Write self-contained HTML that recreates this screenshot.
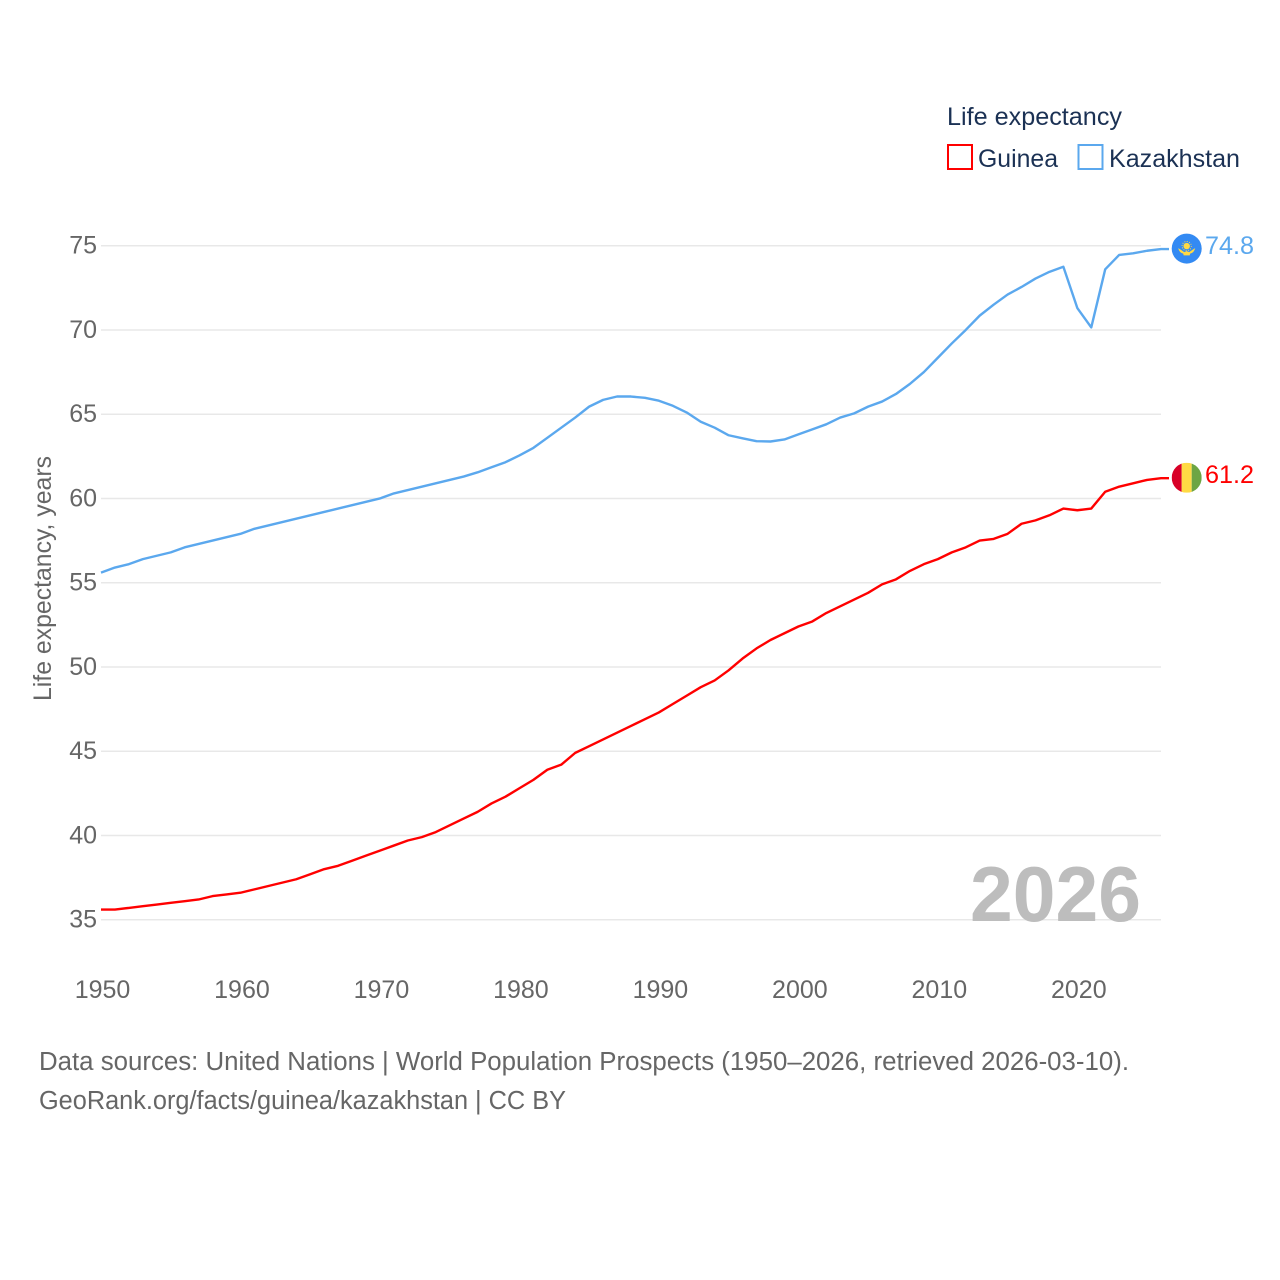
<!DOCTYPE html>
<html>
<head>
<meta charset="utf-8">
<title>Life expectancy: Guinea and Kazakhstan</title>
<style>
html,body{margin:0;padding:0;background:#fff;width:1280px;height:1280px;overflow:hidden}
svg{display:block}
text{font-family:"Liberation Sans",sans-serif}
</style>
</head>
<body>
<svg id="chart" xmlns="http://www.w3.org/2000/svg" width="1280" height="1280" viewBox="0 0 1280 1280">
  <rect width="1280" height="1280" fill="#fff"/>
  <g id="grid"></g>
  <g id="yticks"></g>
  <g id="xticks"></g>
  <text transform="translate(51,701) rotate(-90)" font-size="25" fill="#666" textLength="245" lengthAdjust="spacingAndGlyphs">Life expectancy, years</text>
  <text x="970" y="921" font-size="78" font-weight="700" fill="#bdbdbd" textLength="171" lengthAdjust="spacingAndGlyphs">2026</text>
  <g id="series"></g>

  <g>
    <text x="947" y="125" font-size="25" fill="#1b3154" textLength="175" lengthAdjust="spacingAndGlyphs">Life expectancy</text>
    <rect x="948" y="145" width="24" height="24" fill="#fff" stroke="#ff0000" stroke-width="2"/>
    <text x="978" y="167" font-size="25" fill="#1b3154" textLength="80" lengthAdjust="spacingAndGlyphs">Guinea</text>
    <rect x="1078.500" y="145" width="24" height="24" fill="#fff" stroke="#5ba8ee" stroke-width="2"/>
    <text x="1109" y="167" font-size="25" fill="#1b3154" textLength="131" lengthAdjust="spacingAndGlyphs">Kazakhstan</text>
  </g>

  <g id="flag-kz">
    <circle cx="0" cy="0" r="15" fill="#338af3"/>
    <circle cx="0" cy="-2.500" r="3.200" fill="#ffda44"/>
    <circle cx="0" cy="-2.500" r="4.600" fill="none" stroke="#ffda44" stroke-width="1" stroke-dasharray="1 1.400"/>
    <path d="M-8.500,-0.500 Q-5,1.500 -2.500,3.500 L0,2.500 L2.500,3.500 Q5,1.500 8.500,-0.500 Q7.500,4 3.500,5 L3,6.800 L-3,6.800 L-3.500,5 Q-7.500,4 -8.500,-0.500 Z" fill="#ffda44"/>
  </g>
  <g id="flag-gn">
    <clipPath id="gn-clip"><circle cx="0" cy="0" r="15"/></clipPath>
    <g clip-path="url(#gn-clip)">
      <rect x="-15" y="-15" width="10" height="30" fill="#d80027"/>
      <rect x="-5" y="-15" width="10" height="30" fill="#ffda44"/>
      <rect x="5" y="-15" width="10" height="30" fill="#6da544"/>
    </g>
  </g>
  <text id="value-kz" x="1205" font-size="25" fill="#5ba8ee" textLength="49" lengthAdjust="spacingAndGlyphs"></text>
  <text id="value-gn" x="1205" font-size="25" fill="#ff0000" textLength="49" lengthAdjust="spacingAndGlyphs"></text>

  <text x="39" y="1070" font-size="25.500" fill="#666" textLength="1090" lengthAdjust="spacingAndGlyphs">Data sources: United Nations | World Population Prospects (1950–2026, retrieved 2026-03-10).</text>
  <text x="39" y="1109" font-size="25.500" fill="#666" textLength="527" lengthAdjust="spacingAndGlyphs">GeoRank.org/facts/guinea/kazakhstan | CC BY</text>
</svg>
<script>
const startYear = 1950;
const xTickLabels = [1950, 1960, 1970, 1980, 1990, 2000, 2010, 2020];
const yTickLabels = [35, 40, 45, 50, 55, 60, 65, 70, 75];
const guineaValues = [35.6,35.6,35.7,35.8,35.9,36.0,36.1,36.2,36.4,36.5,36.6,36.8,37.0,37.2,37.4,37.7,38.0,38.2,38.5,38.8,39.1,39.4,39.7,39.9,40.2,40.6,41.0,41.4,41.9,42.3,42.8,43.3,43.9,44.2,44.9,45.3,45.7,46.1,46.5,46.9,47.3,47.8,48.3,48.8,49.2,49.8,50.5,51.1,51.6,52.0,52.4,52.7,53.2,53.6,54.0,54.4,54.9,55.2,55.7,56.1,56.4,56.8,57.1,57.5,57.6,57.9,58.5,58.7,59.0,59.4,59.3,59.4,60.4,60.7,60.9,61.1,61.2];
const kazakhstanValues = [55.6,55.9,56.1,56.4,56.6,56.8,57.1,57.3,57.5,57.7,57.9,58.2,58.4,58.6,58.8,59.0,59.2,59.4,59.6,59.8,60.0,60.3,60.5,60.7,60.9,61.1,61.3,61.55,61.85,62.15,62.55,63.0,63.6,64.2,64.8,65.45,65.85,66.05,66.05,65.97,65.8,65.5,65.1,64.55,64.2,63.75,63.57,63.4,63.38,63.5,63.8,64.1,64.4,64.8,65.05,65.45,65.75,66.2,66.8,67.5,68.35,69.2,70.0,70.85,71.5,72.1,72.55,73.05,73.45,73.75,71.3,70.15,73.6,74.45,74.55,74.7,74.8];

const NS = 'http://www.w3.org/2000/svg';
const xScale = function (year) { return 101 + (year - 1950) * (1161 - 101) / 76; };
const yScale = function (value) { return 919.7 - (value - 35) * (919.7 - 245.7) / 40; };

const grid = document.getElementById('grid');
const yticks = document.getElementById('yticks');
const xticks = document.getElementById('xticks');
const series = document.getElementById('series');

yTickLabels.forEach(function (tick) {
  const line = document.createElementNS(NS, 'line');
  
  
  line.setAttribute('x1', 101);
  line.setAttribute('x2', 1161);
  line.setAttribute('y1', yScale(tick));
  line.setAttribute('y2', yScale(tick));
  line.setAttribute('stroke', '#e8e8e8');
  line.setAttribute('stroke-width', 1.5);
  grid.appendChild(line);

  const label = document.createElementNS(NS, 'text');
  
  
  label.setAttribute('x', 97);
  label.setAttribute('y', yScale(tick) + 8);
  label.setAttribute('text-anchor', 'end');
  label.setAttribute('font-size', 25);
  label.setAttribute('fill', '#666');
  label.textContent = tick;
  yticks.appendChild(label);
});

xTickLabels.forEach(function (tick) {
  const label = document.createElementNS(NS, 'text');
  
  
  label.setAttribute('x', xScale(tick) + 1.5);
  label.setAttribute('y', 998);
  label.setAttribute('text-anchor', 'middle');
  label.setAttribute('font-size', 25);
  label.setAttribute('fill', '#666');
  label.textContent = tick;
  xticks.appendChild(label);
});

function pathFor(values) {
  const pts = values.map(function (v, i) { return xScale(startYear + i).toFixed(2) + ',' + yScale(v).toFixed(2); });
  const lastY = yScale(values[values.length - 1]).toFixed(2);
  return 'M' + pts.join(' L') + ' L1169,' + lastY;
}

const guineaLine = document.createElementNS(NS, 'path');


guineaLine.setAttribute('d', pathFor(guineaValues));
guineaLine.setAttribute('fill', 'none');
guineaLine.setAttribute('stroke', '#ff0000');
guineaLine.setAttribute('stroke-width', 2.4);
guineaLine.setAttribute('stroke-linejoin', 'round');
series.appendChild(guineaLine);

const kazakhstanLine = document.createElementNS(NS, 'path');


kazakhstanLine.setAttribute('d', pathFor(kazakhstanValues));
kazakhstanLine.setAttribute('fill', 'none');
kazakhstanLine.setAttribute('stroke', '#5ba8ee');
kazakhstanLine.setAttribute('stroke-width', 2.4);
kazakhstanLine.setAttribute('stroke-linejoin', 'round');
series.appendChild(kazakhstanLine);

const lastKz = kazakhstanValues[kazakhstanValues.length - 1];
const lastGn = guineaValues[guineaValues.length - 1];
document.getElementById('flag-kz').setAttribute('transform', 'translate(1186.7,' + (yScale(lastKz) - 0.5) + ')');
document.getElementById('flag-gn').setAttribute('transform', 'translate(1186.7,' + (yScale(lastGn) - 0.5) + ')');
const valueKz = document.getElementById('value-kz');
valueKz.setAttribute('y', yScale(lastKz) + 5);
valueKz.textContent = lastKz.toFixed(1);
const valueGn = document.getElementById('value-gn');
valueGn.setAttribute('y', yScale(lastGn) + 5);
valueGn.textContent = lastGn.toFixed(1);
</script>
</body>
</html>
